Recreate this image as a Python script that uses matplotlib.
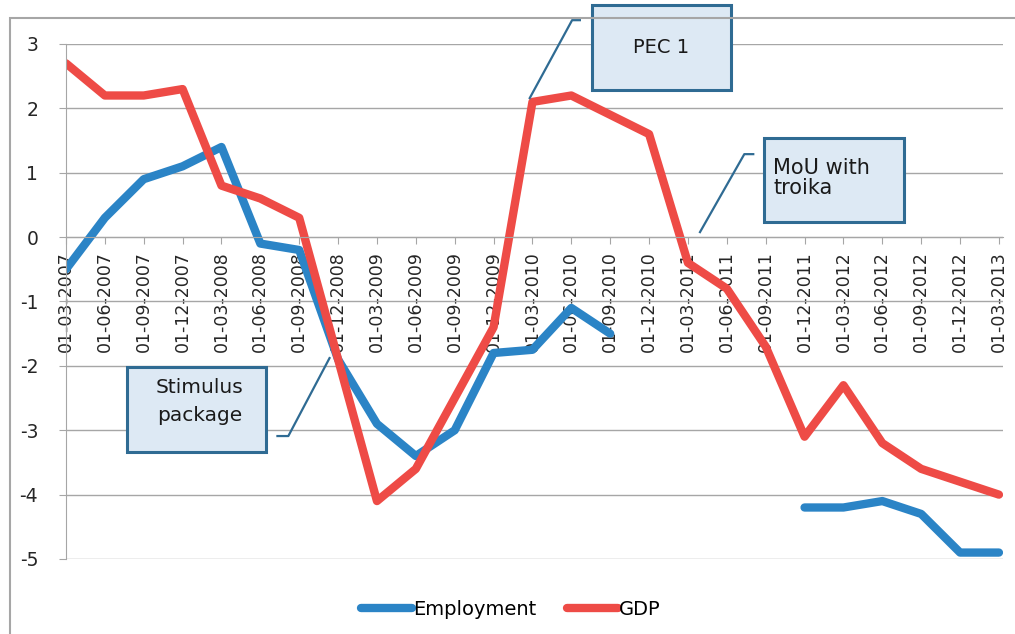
import numpy as np
import matplotlib.pyplot as plt
from matplotlib.patches import Rectangle

plt.rcParams['axes.unicode_minus'] = False

# Datos
fechas = ['01-03-2007', '01-06-2007', '01-09-2007', '01-12-2007',
          '01-03-2008', '01-06-2008', '01-09-2008', '01-12-2008',
          '01-03-2009', '01-06-2009', '01-09-2009', '01-12-2009',
          '01-03-2010', '01-06-2010', '01-09-2010', '01-12-2010',
          '01-03-2011', '01-06-2011', '01-09-2011', '01-12-2011',
          '01-03-2012', '01-06-2012', '01-09-2012', '01-12-2012',
          '01-03-2013']
employment = [-0.5, 0.3, 0.9, 1.1, 1.4, -0.1, -0.2, -1.9,
              -2.9, -3.4, -3.0, -1.8, -1.75, -1.1, -1.5,
              np.nan, np.nan, np.nan, np.nan,
              -4.2, -4.2, -4.1, -4.3, -4.9, -4.9]
gdp = [2.7, 2.2, 2.2, 2.3, 0.8, 0.6, 0.3, -1.9,
       -4.1, -3.6, -2.5, -1.4, 2.1, 2.2, 1.9, 1.6,
       -0.4, -0.8, -1.7, -3.1, -2.3, -3.2, -3.6, -3.8, -4.0]

azul = '#2b84c6'
rojo = '#ee4b46'
borde = '#2f6b93'
relleno = '#dde9f4'

fig = plt.figure(figsize=(10.15, 6.34), dpi=100)
ax = fig.add_axes([0.065, 0.1183, 0.923, 0.8123])

x = np.arange(len(fechas))
ax.plot(x, employment, color=azul, lw=6, label='Employment',
        solid_capstyle='round', solid_joinstyle='round')
ax.plot(x, gdp, color=rojo, lw=6, label='GDP',
        solid_capstyle='round', solid_joinstyle='round')

ax.set_ylim(-5, 3)
ax.set_xlim(0, 24.1)
ax.set_yticks(range(-5, 4))
ax.yaxis.grid(True, color='#a6a6a6', lw=1)
ax.set_axisbelow(True)
for s in ['top', 'right']:
    ax.spines[s].set_visible(False)
ax.spines['left'].set_color('#a6a6a6')
ax.spines['bottom'].set_position(('data', 0))
ax.spines['bottom'].set_color('#a6a6a6')
ax.set_xticks(x)
ax.set_xticklabels(fechas, rotation=90, fontsize=12.5, color='#262626')
ax.tick_params(axis='x', direction='out', length=5, color='#a6a6a6', pad=5)
ax.tick_params(axis='y', direction='out', length=5, color='#a6a6a6', labelsize=13.5,
               labelcolor='#262626', pad=15)

# Cuadros de texto
def cuadro(x0, y0, x1, y1, texto, tx, ty, ha='center', ls=1.2, fs=14):
    r = Rectangle((x0, y1), x1 - x0, y0 - y1, facecolor=relleno, edgecolor=borde,
                  lw=2.2, clip_on=False, zorder=5)
    ax.add_patch(r)
    ax.text(tx, ty, texto, ha=ha, va='center', fontsize=fs, color='#1a1a1a',
            linespacing=ls, zorder=6, clip_on=False)

def linea(xs, ys):
    ax.plot(xs, ys, color=borde, lw=1.6, clip_on=False, zorder=5)

cuadro(13.53, 3.60, 17.11, 2.28, 'PEC 1', 15.31, 2.95)
linea([11.93, 13.02, 13.22], [2.16, 3.37, 3.37])

cuadro(17.96, 1.537, 21.55, 0.233, 'MoU with\ntroika', 18.2, 0.916, ha='left', ls=1.0, fs=15)
linea([16.31, 17.45, 17.68], [0.078, 1.289, 1.289])

cuadro(1.57, -2.02, 5.15, -3.34, 'Stimulus\npackage', 3.43, -2.55, ls=1.6, fs=14.5)
linea([6.78, 5.72, 5.44], [-1.879, -3.09, -3.09])

leg = ax.legend(loc='upper center', bbox_to_anchor=(0.475, -0.045), ncol=2, frameon=False,
                fontsize=14, handlelength=2.6, handletextpad=0.05, columnspacing=1.6)

# Marco exterior del grafico
fig.patches.append(Rectangle((10 / 1015, -0.1), 1.2, 1 - 18 / 634 + 0.1,
                             transform=fig.transFigure, fill=False,
                             edgecolor='#a6a6a6', lw=1.5))

plt.savefig('out.png')
